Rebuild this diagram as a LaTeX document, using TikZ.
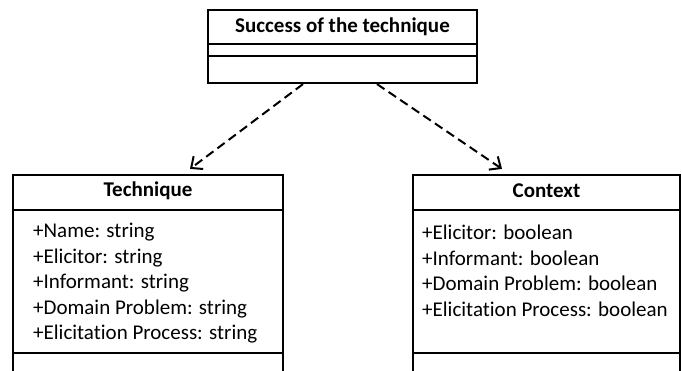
\documentclass[tikz,border=0pt]{standalone}
\usepackage{fontspec}
\setmainfont[Ligatures=NoCommon]{Carlito}
\usetikzlibrary{arrows.meta,calc}
\begin{document}
\begin{tikzpicture}[x=1pt,y=-1pt,
  umlbox/.style={draw=black,line width=2.2pt,fill=white,inner sep=0pt},
  divider/.style={line width=2.2pt},
  headtxt/.style={font=\fontsize{21}{24}\selectfont\bfseries,inner sep=0pt},
  attr/.style={font=\fontsize{21}{24}\selectfont,inner sep=0pt,anchor=west},
  dep/.style={line width=2pt,dash pattern=on 9pt off 5pt,-{Straight Barb[length=9pt,width=16pt,line width=2pt]}}]
\useasboundingbox (0,0) rectangle (682,371);
\clip (0,0) rectangle (682,371);
\fill[white] (0,0) rectangle (682,371);
% top box
\node[umlbox,minimum width=269pt,minimum height=73pt] (top) at (342.5,46.5) {};
\draw[divider] (208,44) -- (477,44);
\draw[divider] (208,56) -- (477,56);
\node[headtxt] (toptitle) at (342.5,27) {Success of the technique};
% technique box
\node[umlbox,minimum width=270pt,minimum height=230pt] (tech) at (148,290) {};
\draw[divider] (13,210) -- (283,210);
\draw[divider] (13,353) -- (283,353);
\node[headtxt] (techtitle) at (148,191) {Technique};
\node[attr] (t1) at (33,232.5) {+Name: string};
\node[attr] (t2) at (33,258) {+Elicitor: string};
\node[attr] (t3) at (33,283.5) {+Informant: string};
\node[attr] (t4) at (33,309) {+Domain Problem: string};
\node[attr] (t5) at (33,334.5) {+Elicitation Process: string};
% context box
\node[umlbox,minimum width=267pt,minimum height=230pt] (ctx) at (546.5,290) {};
\draw[divider] (413,210) -- (680,210);
\draw[divider] (413,353) -- (680,353);
\node[headtxt] (ctxtitle) at (546.5,191) {Context};
\node[attr] (c1) at (422,232.5) {+Elicitor: boolean};
\node[attr] (c2) at (422,258) {+Informant: boolean};
\node[attr] (c3) at (422,283.5) {+Domain Problem: boolean};
\node[attr] (c4) at (422,309) {+Elicitation Process: boolean};
% dependencies
\draw[dep] ($(top.south)+(-39.5,0)$) -- ($(tech.north)+(42,-5)$);
\draw[dep] ($(top.south)+(34.5,0)$) -- ($(ctx.north)+(-44.5,-5)$);
\end{tikzpicture}
\end{document}
